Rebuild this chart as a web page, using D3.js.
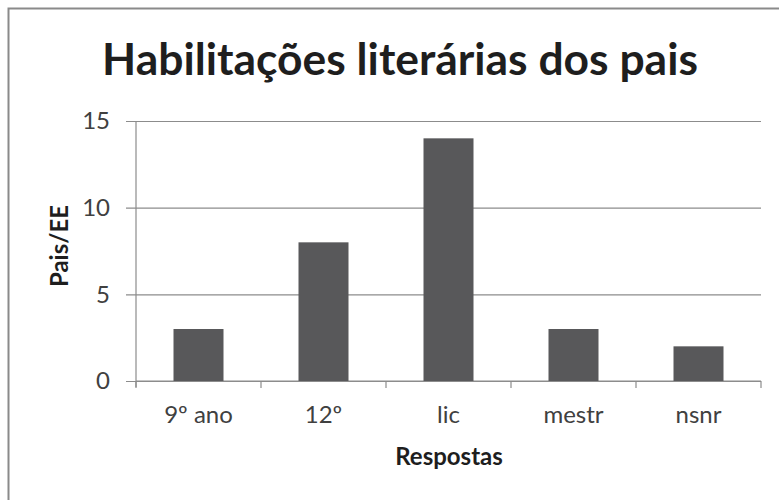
<!DOCTYPE html>
<html>
<head>
<meta charset="utf-8">
<script src="https://cdn.jsdelivr.net/npm/d3@7"></script>
<style>
  body { margin: 0; background: #fff; }
  svg { display: block; font-family: Lato, "Open Sans", sans-serif; }
</style>
</head>
<body>
<svg id="chart" width="779" height="500"></svg>
<script>
// chart data
var categories = ["9º ano", "12º", "lic", "mestr", "nsnr"];
var values = [3, 8, 14, 3, 2];
var yTicks = [0, 5, 10, 15];
var title = "Habilitações literárias dos pais";
var xTitle = "Respostas";
var yTitle = "Pais/EE";

var margin = {top: 121, right: 18, bottom: 119, left: 136};
var width = 779 - margin.left - margin.right;
var height = 500 - margin.top - margin.bottom;

var svg = d3.select("#chart");

// outer frame (only top and left edges show inside the picture)
svg.append("rect")
  .attr("x", 8.5).attr("y", 8.5)
  .attr("width", 900).attr("height", 700)
  .attr("fill", "none")
  .attr("stroke", "#8a8a8a")
  .attr("stroke-width", 2);

var g = svg.append("g")
  .attr("transform", "translate(" + margin.left + "," + margin.top + ")");

var x = d3.scaleBand().domain(categories).range([0, width]).paddingInner(0.6).paddingOuter(0.3);
var y = d3.scaleLinear().domain([0, 15]).range([height, 0]);

// gridlines + y ticks
var yAxis = d3.axisLeft(y).tickValues(yTicks).tickSize(-width - 10).tickPadding(14);
g.append("g")
  .call(yAxis)
  .call(s => s.select(".domain").remove())
  .call(s => s.selectAll(".tick line")
      .attr("x1", width).attr("x2", -10)
      .attr("stroke", "#8c8c8c").attr("stroke-width", 1.2))
  .call(s => s.selectAll(".tick text")
      .attr("x", -26)
      .attr("font-size", 24).attr("fill", "#404040")
      .attr("font-family", "Lato, sans-serif"));

// y axis line
g.append("line")
  .attr("x1", 0).attr("x2", 0)
  .attr("y1", 0).attr("y2", height + 6)
  .attr("stroke", "#8c8c8c").attr("stroke-width", 1.2);

// x axis line + ticks at band boundaries
g.append("line")
  .attr("x1", 0).attr("x2", width)
  .attr("y1", height).attr("y2", height)
  .attr("stroke", "#8c8c8c").attr("stroke-width", 1.2);

var bounds = d3.range(categories.length + 1).map(i => i * width / categories.length);
g.selectAll(".xtick").data(bounds).enter().append("line")
  .attr("class", "xtick")
  .attr("x1", d => d).attr("x2", d => d)
  .attr("y1", height).attr("y2", height + 7)
  .attr("stroke", "#8c8c8c").attr("stroke-width", 1.2);

// bars
g.selectAll(".bar").data(values).enter().append("rect")
  .attr("class", "bar")
  .attr("x", (d, i) => x(categories[i]))
  .attr("width", x.bandwidth())
  .attr("y", d => y(d))
  .attr("height", d => y(0) - y(d))
  .attr("fill", "#58585a");

// category labels
g.selectAll(".xlabel").data(categories).enter().append("text")
  .attr("class", "xlabel")
  .attr("x", d => x(d) + x.bandwidth() / 2)
  .attr("y", height + 42)
  .attr("text-anchor", "middle")
  .attr("font-size", 24)
  .attr("fill", "#404040")
  .text(d => d);

// titles
var t = svg.append("text")
  .attr("x", 400).attr("y", 75)
  .attr("text-anchor", "middle")
  .attr("font-weight", "bold")
  .attr("font-size", 44)
  .attr("fill", "#1e1e1e")
  .text(title);
var tw = t.node().getComputedTextLength();
t.attr("font-size", 44 * 596 / tw);

svg.append("text")
  .attr("x", 449).attr("y", 465)
  .attr("text-anchor", "middle")
  .attr("font-weight", "bold")
  .attr("font-size", 24)
  .attr("fill", "#1e1e1e")
  .text(xTitle);

svg.append("text")
  .attr("transform", "translate(68,246) rotate(-90)")
  .attr("text-anchor", "middle")
  .attr("font-weight", "bold")
  .attr("font-size", 24)
  .attr("fill", "#1e1e1e")
  .text(yTitle);
</script>
</body>
</html>
